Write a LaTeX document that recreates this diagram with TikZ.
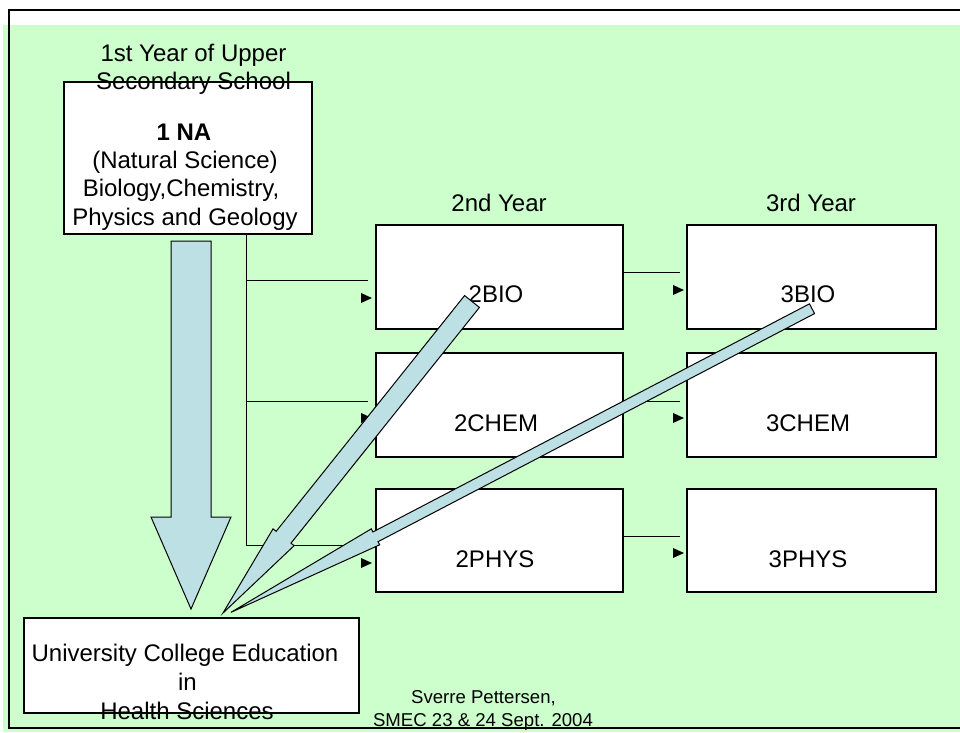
\documentclass[tikz,border=0pt]{standalone}
\usepackage{fontspec}
\setmainfont{Liberation Sans}
\usetikzlibrary{calc}
\definecolor{bggreen}{RGB}{204,255,204}
\definecolor{arrowblue}{RGB}{188,224,228}
\tikzset{
  box/.style={draw=black, line width=1.1pt, fill=white, inner sep=0pt, outer sep=0pt},
  conn/.style={draw=black, line width=1pt},
  txt/.style={inner sep=0pt, anchor=base, font=\fontsize{24}{28}\selectfont},
  small/.style={inner sep=0pt, anchor=base, font=\fontsize{18.6}{23}\selectfont},
  bigarrow/.style={fill=arrowblue, draw=black, line width=1pt, line join=miter},
}
\newcommand\bigarrow[5]{%
  \coordinate (hb) at ($(#2)!#5!(#1)$);
  \filldraw[bigarrow] ($(#1)!#3!90:(#2)$) -- ($(hb)!#3!90:(#2)$) -- ($(hb)!#4!90:(#2)$)
    -- (#2) -- ($(hb)!#4!-90:(#2)$) -- ($(hb)!#3!-90:(#2)$) -- ($(#1)!#3!-90:(#2)$) -- cycle;}
\newcommand\smalltri[1]{\fill (#1) -- ++(-11,5) -- ++(0,-10) -- cycle;}
\begin{document}
\begin{tikzpicture}[x=1pt,y=-1pt]
\useasboundingbox (0,0) rectangle (960,732);
% background and frame
\fill[bggreen] (3,25) rectangle (960,732);
\draw[line width=2.5pt] (962,10) -- (9,10) -- (9,728) -- (962,728);

% boxes
\node[box, minimum width=248pt, minimum height=152pt] (na) at (188,158) {};
\node[box, minimum width=247pt, minimum height=104pt] (bio2) at (499.5,277) {};
\node[box, minimum width=249pt, minimum height=104pt] (bio3) at (811.5,277) {};
\node[box, minimum width=247pt, minimum height=104pt] (chem2) at (499.5,405) {};
\node[box, minimum width=249pt, minimum height=104pt] (chem3) at (811.5,405) {};
\node[box, minimum width=247pt, minimum height=103pt] (phys2) at (499.5,540.5) {};
\node[box, minimum width=249pt, minimum height=103pt] (phys3) at (811.5,540.5) {};
\node[box, minimum width=335pt, minimum height=95pt] (uni) at (191.5,665.5) {};

% connectors 1st -> 2nd year
\coordinate (j1) at (246,280);
\coordinate (j2) at (246,401);
\coordinate (j3) at (246,545);
\draw[conn] (na.south -| j3) -- (j3);
\draw[conn] (j1) -- ($(bio2.west |- j1)+(-8,0)$);
\draw[conn] (j2) -- ($(chem2.west |- j2)+(-8,0)$);
\draw[conn] (j3) -- ($(phys2.west |- j3)+(-8,0)$);
\coordinate (lt1) at (372,298);
\coordinate (lt2) at (372,418);
\coordinate (lt3) at (372,563);
\smalltri{lt1}\smalltri{lt2}\smalltri{lt3}

% connectors 2nd -> 3rd year
\coordinate (r1) at (680,272);
\coordinate (r2) at (680,401);
\coordinate (r3) at (680,536);
\draw[conn] (bio2.east |- r1) -- (r1);
\draw[conn] (chem2.east |- r2) -- (r2);
\draw[conn] (phys2.east |- r3) -- (r3);
\coordinate (rt1) at (684,290);
\coordinate (rt2) at (684,418);
\coordinate (rt3) at (684,553);
\smalltri{rt1}\smalltri{rt2}\smalltri{rt3}

% texts
\node[txt] (t1) at (193.5,61.7) {1st Year of Upper};
\node[txt] (t2) at (193.5,89.3) {Secondary School};
\node[txt, font=\fontsize{24}{28}\selectfont\bfseries] (n1) at (184,140) {1 NA};
\node[txt] (n2) at (185,168) {(Natural Science)};
\node[txt] (n3) at (181,196.7) {Biology,Chemistry,};
\node[txt] (n4) at (185,225) {Physics and Geology};
\node[txt] (y2) at (499,211) {2nd Year};
\node[txt] (y3) at (811,211) {3rd Year};
\node[txt] (l1) at (496,302.5) {2BIO};
\node[txt] (l2) at (808,302) {3BIO};
\node[txt] (l3) at (496,431) {2CHEM};
\node[txt] (l4) at (808,431.5) {3CHEM};
\node[txt] (l5) at (495,567) {2PHYS};
\node[txt] (l6) at (808,567) {3PHYS};
\node[txt] (u1) at (185,661.7) {University College Education};
\node[txt] (u2) at (187.5,690) {in};
\node[txt] (u3) at (187,719.3) {Health Sciences};
\node[small] (c1) at (483.5,703.3) {Sverre Pettersen,};
\node[small] (c2) at (483,726.7) {SMEC 23 \& 24 Sept. 2004};

% big arrows
\coordinate (vTail) at (191,241);
\coordinate (vTip) at (191,609);
\bigarrow{vTail}{vTip}{20pt}{40pt}{92pt}
\coordinate (aTail) at (472,301.5);
\coordinate (aTip) at (223,613);
\bigarrow{aTail}{aTip}{9.5pt}{13.5pt}{97pt}
\coordinate (bTail) at (812,308.7);
\coordinate (bTip) at (231,612.3);
\bigarrow{bTail}{bTip}{5.5pt}{9pt}{163pt}
\end{tikzpicture}
\end{document}
